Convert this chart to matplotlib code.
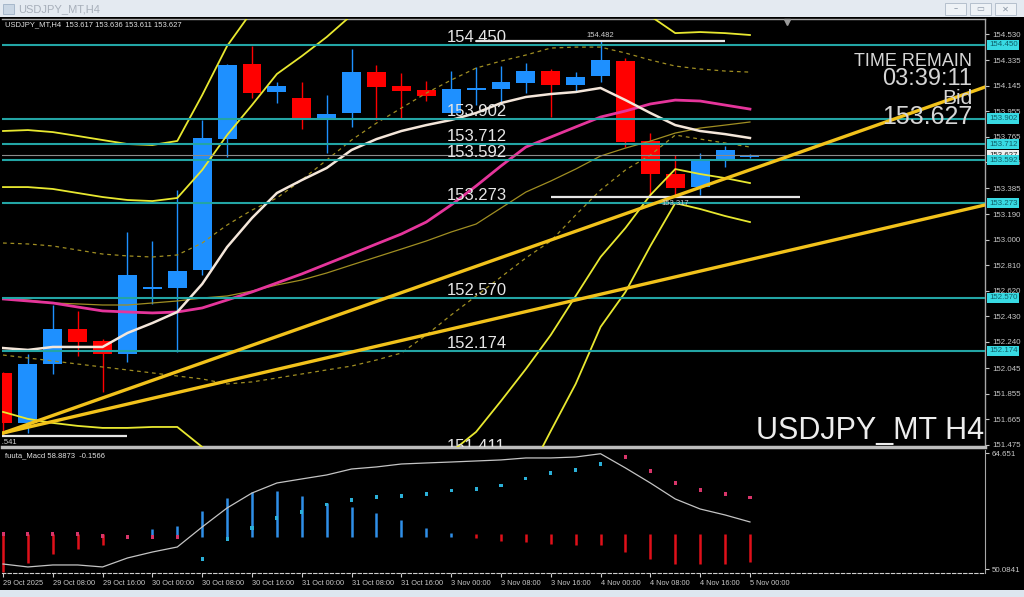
import numpy as np
import matplotlib
matplotlib.use('Agg')
from matplotlib import pyplot as plt
from matplotlib.patches import Rectangle
from matplotlib.transforms import blended_transform_factory

plt.rcParams['font.family'] = ['Liberation Sans', 'DejaVu Sans']

# ---- price data (H4 bars, 29 Oct 00:00 .. 5 Nov 00:00) ----
opens = [152.010, 151.638, 152.077, 152.337, 152.247, 152.151, 152.634, 152.642, 152.775, 153.749,
         154.307, 154.099, 154.054, 153.891, 153.943, 154.248, 154.143, 154.114, 153.943, 154.114,
         154.121, 154.166, 154.255, 154.151, 154.218, 154.329, 153.735, 153.489, 153.392, 153.593, 153.617]
highs = [152.020, 152.151, 152.515, 152.470, 152.260, 153.058, 152.990, 153.370, 153.891, 154.305,
         154.440, 154.173, 154.173, 154.076, 154.418, 154.300, 154.240, 154.180, 154.255, 154.285,
         154.292, 154.314, 154.270, 154.248, 154.482, 154.352, 153.794, 153.630, 153.645, 153.697, 153.636]
lows = [151.541, 151.565, 152.002, 152.136, 151.868, 152.091, 152.520, 152.166, 152.740, 153.615,
        154.054, 154.017, 153.824, 153.645, 153.839, 153.891, 153.898, 154.032, 153.943, 154.000,
        154.024, 154.091, 153.913, 154.106, 154.173, 153.690, 153.333, 153.317, 153.333, 153.541, 153.611]
closes = [151.638, 152.077, 152.337, 152.240, 152.151, 152.738, 152.640, 152.768, 153.757, 154.299,
          154.091, 154.143, 153.898, 153.935, 154.248, 154.136, 154.106, 154.069, 154.121, 154.129,
          154.173, 154.255, 154.151, 154.210, 154.337, 153.727, 153.489, 153.385, 153.593, 153.668, 153.627]

# moving averages
ma_fast = [152.195, 152.181, 152.203, 152.203, 152.203, 152.307, 152.381, 152.463, 152.671, 152.946,
           153.162, 153.348, 153.444, 153.534, 153.668, 153.749, 153.809, 153.853, 153.891, 153.943,
           154.017, 154.062, 154.084, 154.099, 154.129, 154.039, 153.943, 153.853, 153.809, 153.786, 153.757]
ma_mid = [152.560, 152.545, 152.530, 152.500, 152.471, 152.463, 152.456, 152.463, 152.493, 152.552,
          152.612, 152.679, 152.746, 152.820, 152.894, 152.969, 153.043, 153.132, 153.259, 153.400,
          153.549, 153.690, 153.764, 153.839, 153.913, 153.958, 154.010, 154.039, 154.032, 154.002, 153.972]
ma_slow = [152.567, 152.552, 152.530, 152.523, 152.515, 152.515, 152.530, 152.545, 152.567, 152.582,
           152.619, 152.664, 152.701, 152.753, 152.813, 152.872, 152.931, 152.991, 153.058, 153.117,
           153.236, 153.355, 153.437, 153.526, 153.623, 153.682, 153.734, 153.794, 153.831, 153.853, 153.876]

# bollinger bands (1, 2, 3 sigma)
bb_up1 = [152.976, 152.969, 152.954, 152.924, 152.894, 152.880, 152.872, 152.887, 152.976, 153.110,
          153.221, 153.311, 153.445, 153.593, 153.742, 153.868, 153.980, 154.091, 154.188, 154.277,
          154.329, 154.374, 154.426, 154.433, 154.433, 154.389, 154.337, 154.292, 154.270, 154.255, 154.247]
bb_lo1 = [152.143, 152.121, 152.099, 152.076, 152.054, 152.032, 152.010, 151.987, 151.965, 151.928,
          151.943, 151.972, 152.002, 152.032, 152.061, 152.106, 152.158, 152.292, 152.441, 152.582,
          152.723, 152.865, 152.991, 153.184, 153.370, 153.519, 153.630, 153.779, 153.749, 153.720, 153.690]
bb_up2 = [153.392, 153.392, 153.378, 153.348, 153.318, 153.296, 153.288, 153.311, 153.519, 153.779,
          154.002, 154.233, 154.366, 154.508, 154.671, 154.783, 154.894, 155.006, 155.080, 155.117,
          155.110, 155.058, 155.043, 154.991, 154.931, 154.820, 154.664, 154.537, 154.545, 154.537, 154.523]
bb_lo2 = [151.720, 151.668, 151.638, 151.616, 151.601, 151.601, 151.608, 151.608, 151.459, 151.288,
          151.214, 151.140, 151.066, 151.028, 151.028, 151.066, 151.140, 151.288, 151.422, 151.571,
          151.801, 152.039, 152.292, 152.582, 152.872, 153.088, 153.333, 153.526, 153.489, 153.459, 153.422]
bb_up3 = [153.809, 153.816, 153.801, 153.772, 153.742, 153.712, 153.705, 153.735, 154.076, 154.441,
          154.700, 154.800, 154.950, 155.100, 155.250, 155.350, 155.400, 155.420, 155.400, 155.330,
          155.220, 155.100, 155.050, 154.950, 154.870, 154.800, 154.740, 154.790, 154.750, 154.770, 154.800]
bb_lo3 = [151.311, 151.274, 151.259, 151.229, 151.199, 151.214, 151.207, 151.192, 151.088, 150.880,
          150.827, 150.768, 150.649, 150.500, 150.352, 150.270, 150.233, 150.255, 150.322, 150.545,
          150.842, 151.221, 151.578, 151.928, 152.352, 152.612, 152.954, 153.273, 153.229, 153.177, 153.132]

# horizontal levels drawn on the chart
levels = [154.450, 153.902, 153.712, 153.592, 153.273, 152.570, 152.174, 151.411]
level_labels = ['154.450', '153.902', '153.712', '153.592', '153.273', '152.570', '152.174', '151.411']
bid = 153.627

# high / low markers: (bar, price, label)
hl_bars = [24, 27, 0]
hl_prices = [154.482, 153.317, 151.541]
hl_labels = ['154.482', '153.317', '151.541']

# trend lines: start bar/price, end bar/price
trend_start = [(0.0, 151.563), (0.0, 151.563)]
trend_end = [(39.44, 154.136), (39.44, 153.259)]

axis_levels = [154.530, 154.335, 154.145, 153.955, 153.765, 153.575, 153.385, 153.190, 153.000,
               152.810, 152.620, 152.430, 152.240, 152.045, 151.855, 151.665, 151.475]

time_labels = ['29 Oct 2025', '29 Oct 08:00', '29 Oct 16:00', '30 Oct 00:00', '30 Oct 08:00',
               '30 Oct 16:00', '31 Oct 00:00', '31 Oct 08:00', '31 Oct 16:00', '3 Nov 00:00',
               '3 Nov 08:00', '3 Nov 16:00', '4 Nov 00:00', '4 Nov 08:00', '4 Nov 16:00', '5 Nov 00:00']

# ---- fuuta_Macd sub window ----
macd_line = [50.73, 50.36, 50.61, 50.61, 50.36, 51.49, 52.24, 52.87, 55.39, 57.78,
             59.66, 60.92, 61.43, 61.93, 62.68, 62.94, 63.31, 63.44, 63.56, 63.69,
             63.82, 64.07, 64.07, 64.19, 64.60, 62.81, 60.92, 58.91, 57.65, 56.90, 56.02]
macd_hist = [49.70, 50.86, 51.99, 52.62, 53.12, 54.13, 55.14, 55.51, 57.40, 59.04,
             59.79, 59.92, 59.29, 58.41, 57.90, 57.15, 56.27, 55.26, 54.63, 54.00,
             53.63, 53.50, 53.25, 53.12, 53.12, 52.24, 51.36, 50.73, 50.73, 50.73, 50.98]
macd_dots = [54.51, 54.51, 54.51, 54.51, 54.26, 54.13, 54.13, 54.13, 51.36, 53.88,
             55.26, 56.52, 57.27, 58.16, 58.78, 59.16, 59.29, 59.54, 59.92, 60.17,
             60.55, 61.43, 62.18, 62.56, 63.31, 64.19, 62.43, 60.92, 60.04, 59.54, 59.04]
dot_up = [0, 0, 0, 0, 0, 0, 0, 0, 1, 1, 1, 1, 1, 1, 1, 1, 1, 1, 1, 1,
          1, 1, 1, 1, 1, 0, 0, 0, 0, 0, 0]
hist_base = 54.13
macd_max, macd_min = 64.651, 50.0841

# ---- colours ----
BLUE = '#1E90FF'
RED = '#FF0000'
TEAL = '#23A5A5'
YELLOW = '#E8E830'
GOLD = '#F2C21B'
OLIVE = '#A08E22'
TXT = '#C8C8C8'

W, H = 1024, 597
fig = plt.figure(figsize=(W / 100, H / 100), dpi=100, facecolor='black')


def fx(px):
    return px / W


def fy(py):
    return 1 - py / H


# window chrome
fig.patches.append(Rectangle((0, fy(17)), 1, 17 / H, transform=fig.transFigure,
                             facecolor='#E4EAF1', edgecolor='none', zorder=0))
fig.patches.append(Rectangle((0, 0), 1, 7 / H, transform=fig.transFigure,
                             facecolor='#DDE6EF', edgecolor='none', zorder=0))
fig.patches.append(Rectangle((fx(3), fy(14)), 11 / W, 10 / H, transform=fig.transFigure,
                             facecolor='#C9D6E4', edgecolor='#9FB1C6', lw=0.6, zorder=1))
fig.text(fx(18), fy(9), 'USDJPY_MT,H4', color='#A7AFBA', fontsize=8, va='center')
for bx, sym in zip([945, 970, 995], ['–', '▭', '✕']):
    fig.patches.append(Rectangle((fx(bx), fy(15)), 21 / W, 12 / H, transform=fig.transFigure,
                                 facecolor='#EEF2F6', edgecolor='#B5C0CD', lw=0.7, zorder=1))
    fig.text(fx(bx + 10.5), fy(9), sym, color='#8A96A5', fontsize=6, ha='center', va='center',
             family=['DejaVu Sans'])

x = np.arange(len(closes))
o = np.array(opens)
c = np.array(closes)
xlim = (-0.04, 39.44)

# ---- main price window ----
ax = fig.add_axes([fx(2), fy(447), 983 / W, (447 - 19) / H], facecolor='black')
ax.set_xlim(*xlim)
ax.set_ylim(151.459, 154.642)

up = c >= o
cols = np.where(up, BLUE, RED)
ax.vlines(x, lows, highs, colors=cols, lw=1.0, zorder=2)
body_lo = np.minimum(o, c)
body_h = np.maximum(np.abs(c - o), 0.012)
ax.bar(x, body_h, bottom=body_lo, width=0.76, color=cols, linewidth=0, zorder=2.1)

ax.plot(x, ma_slow, color=OLIVE, lw=0.9, zorder=3)
ax.plot(x, bb_up1, color=OLIVE, lw=0.9, ls=(0, (3, 3)), zorder=3)
ax.plot(x, bb_lo1, color=OLIVE, lw=0.9, ls=(0, (3, 3)), zorder=3)
for band in (bb_up2, bb_lo2, bb_up3, bb_lo3):
    ax.plot(x, band, color=YELLOW, lw=1.3, zorder=3)
ax.plot(x, ma_mid, color='#E5359B', lw=2.0, zorder=3.2)
ax.plot(x, ma_fast, color='#F4E6DA', lw=1.8, zorder=3.3)

# objects
ax.axhline(bid, color='#8A8A8A', lw=0.8, zorder=3.5)
for lv, lab in zip(levels, level_labels):
    ax.axhline(lv, color=TEAL, lw=1.5, zorder=4)
    ax.text(17.83, lv + 0.02, lab, color='#E6E6E6', fontsize=12, ha='left', va='baseline',
            zorder=6, clip_on=True)

for b, p, lab in zip(hl_bars, hl_prices, hl_labels):
    ax.plot([b - 5, b + 5], [p, p], color='#E6E6E6', lw=1.6, zorder=4.5, solid_capstyle='butt')
    off = 0.04 if p > 154 else -0.045
    ax.text(b, p + off, lab, color='#CFCFCF', fontsize=5.5, ha='center', va='center',
            zorder=6, clip_on=True)

for (x0, y0), (x1, y1) in zip(trend_start, trend_end):
    ax.plot([x0, x1], [y0, y1], color=GOLD, lw=2.4, zorder=5)

ax.plot([31.5], [0.993], marker='v', ms=5, color='#9A9A9A', clip_on=False,
        transform=blended_transform_factory(ax.transData, ax.transAxes), zorder=7)

ax.set_xticks([])
ax.yaxis.tick_right()
ax.set_yticks(axis_levels)
ax.set_yticklabels([f'{v:.3f}' for v in axis_levels])
ax.tick_params(axis='y', colors=TXT, labelsize=5.7, length=3, width=0.8, pad=2)
for side in ('top', 'right', 'left'):
    ax.spines[side].set_color('#A8A8A8')
    ax.spines[side].set_linewidth(1.0)
ax.spines['left'].set_visible(False)
ax.spines['bottom'].set_color('#BDBDBD')
ax.spines['bottom'].set_linewidth(2.5)

trans = blended_transform_factory(ax.transAxes, ax.transData)
ax.text(1.004, bid, f'{bid:.3f}', transform=trans, fontsize=5.7, color='#202020', ha='left',
        va='center', clip_on=False, zorder=9,
        bbox=dict(boxstyle='square,pad=0.2', fc='#F0F0F0', ec='none'))
for lv, lab in zip(levels[:-1], level_labels[:-1]):
    ax.text(1.004, lv, lab, transform=trans, fontsize=5.7, color='#0F5E68', ha='left',
            va='center', clip_on=False, zorder=10,
            bbox=dict(boxstyle='square,pad=0.2', fc='#38DAE3', ec='none'))

# ---- MACD window ----
mx = fig.add_axes([fx(2), fy(573), 983 / W, (573 - 450) / H], facecolor='black')
mx.set_xlim(*xlim)
mx.set_ylim(49.6, 65.07)
for i in range(len(x)):
    h = macd_hist[i]
    if h > hist_base + 0.05:
        mx.vlines(x[i], hist_base, h, color='#2F8FE8', lw=1.8)
    elif h < hist_base - 0.05:
        mx.vlines(x[i], hist_base + 0.35, h, color='#E0101A', lw=1.8)
mx.plot(x, macd_line, color='#C4C4C4', lw=0.9)
dot_cols = ['#2BB0D8' if d else '#D8356A' for d in dot_up]
mx.scatter(x, macd_dots, s=5, marker='s', c=dot_cols, linewidths=0, zorder=4)

mx.yaxis.tick_right()
mx.set_yticks([macd_max, macd_min])
mx.set_yticklabels(['64.651', '50.0841'])
mx.tick_params(axis='y', colors=TXT, labelsize=5.7, length=3, width=0.8, pad=2)
mx.set_xticks(x[::2])
mx.set_xticklabels(time_labels)
mx.tick_params(axis='x', colors=TXT, labelsize=5.3, length=3, width=0.8, pad=2)
for lab in mx.get_xticklabels():
    lab.set_ha('left')
mx.spines['top'].set_visible(False)
mx.spines['left'].set_visible(False)
mx.spines['right'].set_color('#A8A8A8')
mx.spines['bottom'].set_color('#CFCFCF')
mx.spines['bottom'].set_linestyle((0, (3, 2)))

# ---- text overlays ----
fig.text(fx(5), fy(25), 'USDJPY_MT,H4  153.617 153.636 153.611 153.627', color='#E2E2E2',
         fontsize=5.5, va='center')
fig.text(fx(5), fy(456), 'fuuta_Macd 58.8873  -0.1566', color='#E2E2E2', fontsize=5.5, va='center')

fig.text(fx(972), fy(61), 'TIME REMAIN', color='#D6D6D6', fontsize=13, ha='right', va='center')
fig.text(fx(972), fy(79), '03:39:11', color='#D6D6D6', fontsize=17, ha='right', va='center')
fig.text(fx(972), fy(99), 'Bid', color='#D6D6D6', fontsize=15, ha='right', va='center')
fig.text(fx(972), fy(117), '153.627', color='#D6D6D6', fontsize=18, ha='right', va='center')
fig.text(fx(984), fy(431), 'USDJPY_MT H4', color='#EDEDED', fontsize=22, ha='right', va='center')

fig.savefig('out.png', dpi=100, facecolor='black')
